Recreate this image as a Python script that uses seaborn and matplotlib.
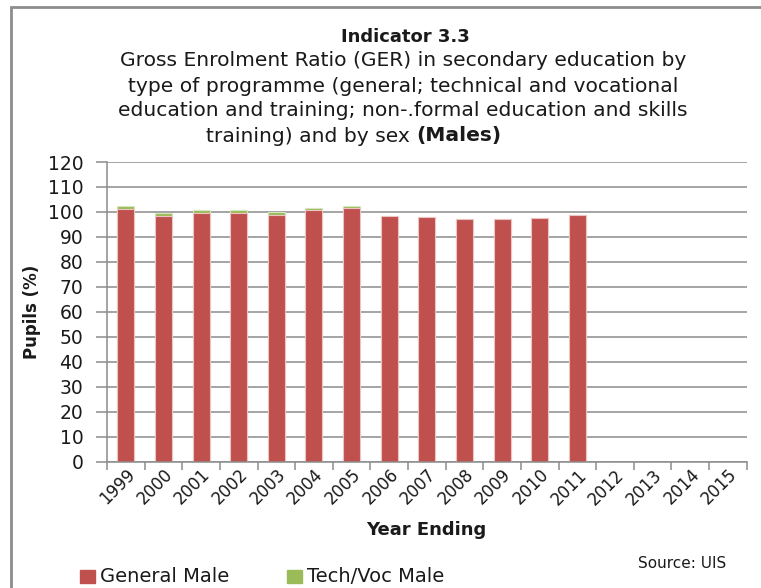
import numpy as np
import pandas as pd
import matplotlib
matplotlib.use("Agg")
import matplotlib.pyplot as plt
from matplotlib.patches import Rectangle
import seaborn as sns

# Gross Enrolment Ratio, males, by programme type
years = [str(y) for y in range(1999, 2016)]
general_male = [101.2, 98.5, 99.7, 99.7, 98.9, 100.9, 101.7,
                98.5, 98.1, 97.1, 97.1, 97.5, 98.9,
                np.nan, np.nan, np.nan, np.nan]
techvoc_male = [1.2, 1.2, 1.1, 1.1, 1.1, 0.7, 0.8,
                np.nan, np.nan, np.nan, np.nan, np.nan, np.nan,
                np.nan, np.nan, np.nan, np.nan]
y_ticks = list(range(0, 121, 10))

RED = "#C0504D"
GREEN = "#9BBB59"
GRID = "#8C8C8C"
INK = "#1a1a1a"

sns.set_theme(style="white")
plt.rcParams["font.family"] = ["DejaVu Sans"]

df = pd.DataFrame({"year": years,
                   "general": general_male,
                   "techvoc": techvoc_male})
df["total"] = df["general"] + df["techvoc"].fillna(0)

fig = plt.figure(figsize=(7.61, 5.88), dpi=100)
W, H = 761, 588
ax = fig.add_axes([107 / W, (H - 461.5) / H, (746.7 - 107) / W, (461.5 - 162) / H])

# stacked bars: total (green) behind, general (red) in front
sns.barplot(data=df, x="year", y="total", order=years, color=GREEN,
            width=0.45, ax=ax, saturation=1, edgecolor="#d8e6c0",
            linewidth=0.8, errorbar=None)
sns.barplot(data=df, x="year", y="general", order=years, color=RED,
            width=0.45, ax=ax, saturation=1, edgecolor="#ecc4c3",
            linewidth=0.8, errorbar=None)

ax.set_xlim(-0.5, len(years) - 0.5)
ax.set_ylim(0, 120)
ax.set_yticks(y_ticks)
ax.yaxis.grid(True, color=GRID, linewidth=1.1)
ax.set_axisbelow(True)
for s in ["top", "right"]:
    ax.spines[s].set_visible(False)
for s in ["left", "bottom"]:
    ax.spines[s].set_color(GRID)
    ax.spines[s].set_linewidth(1.1)

ax.set_xticks(np.arange(-0.5, len(years), 1), minor=True)
ax.tick_params(axis="x", which="major", length=0, labelsize=12, pad=3,
               labelcolor=INK)
ax.tick_params(axis="x", which="minor", length=6, color=GRID, width=1.1,
               direction="out", bottom=True)
ax.tick_params(axis="y", which="major", length=8, color=GRID, width=1.1,
               labelsize=13.5, pad=9, labelcolor=INK, left=True,
               direction="out")
plt.setp(ax.get_xticklabels(), rotation=45, ha="right",
         rotation_mode="anchor")

ax.set_xlabel("")
ax.set_ylabel("")
fig.text(32 / W, 1 - 312 / H, "Pupils (%)", rotation=90, ha="center",
         va="center", fontsize=12, fontweight="bold", color=INK)
fig.text(426 / W, 1 - 530 / H, "Year Ending", ha="center", va="center",
         fontsize=13, fontweight="bold", color=INK)

# title block
TS = 14.6
fig.text(405 / W, 1 - 37 / H, "Indicator 3.3", ha="center", va="center",
         fontsize=13, fontweight="bold", color=INK)
lines = ["Gross Enrolment Ratio (GER) in secondary education by",
         "type of programme (general; technical and vocational",
         "education and training; non-.formal education and skills"]
for i, line in enumerate(lines):
    fig.text(403 / W, 1 - (61 + 25 * i) / H, line, ha="center",
             va="center", fontsize=TS, color=INK)
fig.text(416 / W, 1 - 136 / H, "training) and by sex ", ha="right",
         va="center", fontsize=TS, color=INK)
fig.text(416 / W, 1 - 136 / H, "(Males)", ha="left", va="center",
         fontsize=TS, fontweight="bold", color=INK)

# legend
for x0, col, lab in [(80, RED, "General Male"), (287, GREEN, "Tech/Voc Male")]:
    fig.patches.append(Rectangle((x0 / W, 1 - 583 / H), 15 / W, 13 / H,
                                 transform=fig.transFigure, color=col))
    fig.text((x0 + 20) / W, 1 - 577 / H, lab, ha="left", va="center",
             fontsize=14, color=INK)

fig.text(682 / W, 1 - 564 / H, "Source: UIS", ha="center", va="center",
         fontsize=11, color=INK)

# chart frame
fig.patches.append(Rectangle((11 / W, -0.1), 1.2, 1 - 7 / H + 0.1,
                             transform=fig.transFigure, fill=False,
                             edgecolor="#8C8C8C", linewidth=2))

fig.savefig("out.png", dpi=100)
